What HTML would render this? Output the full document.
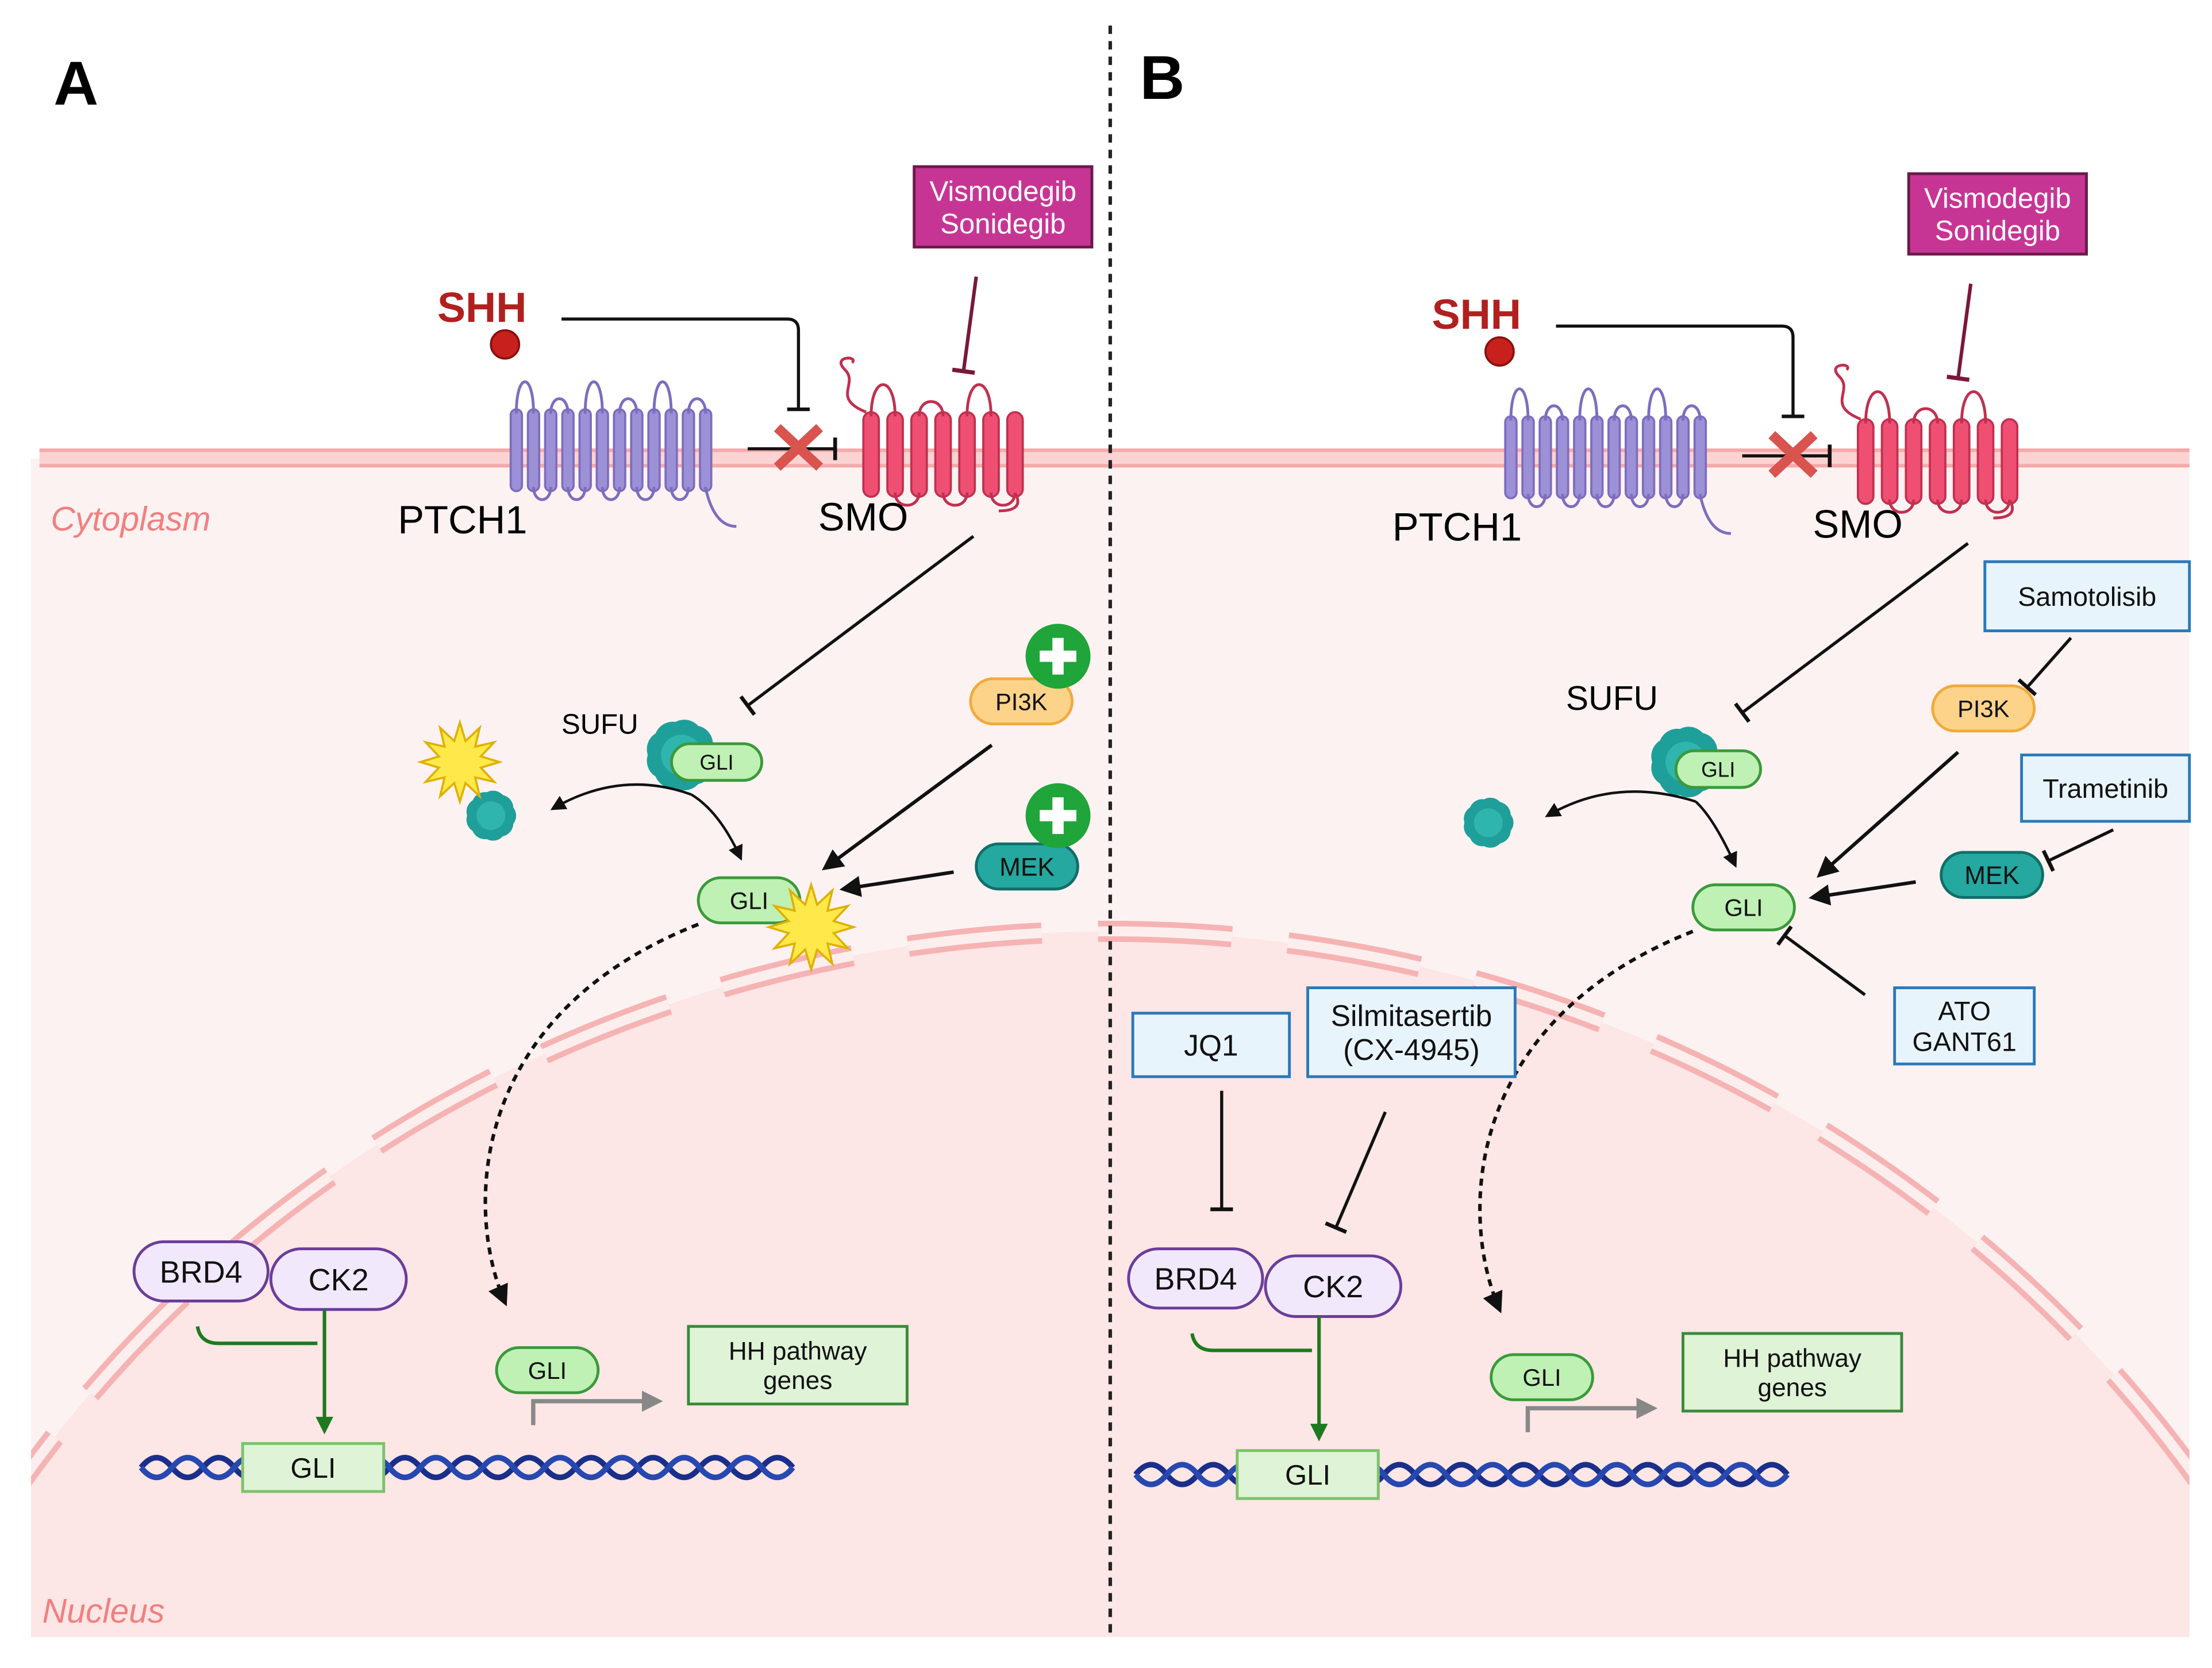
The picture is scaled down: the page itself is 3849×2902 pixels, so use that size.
<!DOCTYPE html>
<html><head><meta charset="utf-8">
<style>
html,body{margin:0;padding:0;background:#fff;width:3849px;height:2902px;overflow:hidden;}
svg{display:block;}
text{font-family:"Liberation Sans",sans-serif;}
</style></head>
<body>
<svg id="s" width="3849" height="2902" viewBox="0 0 1568 1182" xmlns="http://www.w3.org/2000/svg">
<defs>
<marker id="ah" viewBox="0 0 10 10" refX="8" refY="5" markerWidth="6" markerHeight="6" orient="auto"><path d="M0,0 L10,5 L0,10 z" fill="#111"/></marker>
<marker id="ahg" viewBox="0 0 10 10" refX="8" refY="5" markerWidth="5" markerHeight="5" orient="auto"><path d="M0,0 L10,5 L0,10 z" fill="#1e7a1e"/></marker>
<marker id="ahgr" viewBox="0 0 10 10" refX="8" refY="5" markerWidth="5" markerHeight="5" orient="auto"><path d="M0,0 L10,5 L0,10 z" fill="#888"/></marker>
<clipPath id="cl"><rect x="22" y="325" width="1530" height="835"/></clipPath>
</defs>
<rect width="1568" height="1182" fill="#fff"/>
<rect x="22" y="325" width="1530" height="835" fill="#fdf2f2"/>
<g clip-path="url(#cl)">
<ellipse cx="787" cy="1560" rx="937" ry="900" fill="#fce6e6"/>
<ellipse cx="787" cy="1560" rx="937" ry="900" fill="none" stroke="#f6b3b3" stroke-width="15" stroke-dasharray="95,40"/>
<ellipse cx="787" cy="1560" rx="937" ry="900" fill="none" stroke="#fdeeee" stroke-width="7" stroke-dasharray="95,40"/>
</g>
<rect x="28" y="318" width="1524" height="13" fill="#fbd3d3"/>
<line x1="28" y1="319" x2="1552" y2="319" stroke="#f6a9a9" stroke-width="2.5"/>
<line x1="28" y1="330" x2="1552" y2="330" stroke="#f6a9a9" stroke-width="2.5"/>
<line x1="787" y1="18" x2="787" y2="1162" stroke="#222" stroke-width="2.5" stroke-dasharray="6,5"/>
<text x="38" y="74" font-size="44" font-weight="bold">A</text>
<text x="808" y="70" font-size="44" font-weight="bold">B</text>
<text x="36" y="376" font-size="24" font-style="italic" fill="#f08080">Cytoplasm</text>
<text x="30" y="1150" font-size="24" font-style="italic" fill="#f08080">Nucleus</text>
<g id="A"></g>
<g id="B"></g>
</svg>
<script>
var NS="http://www.w3.org/2000/svg";
function el(p,t,a,txt){var e=document.createElementNS(NS,t);for(var k in a)e.setAttribute(k,a[k]);if(txt!==undefined)e.textContent=txt;p.appendChild(e);return e;}
function pill(g,x,y,w,h,fill,stroke,label,fs,tc){el(g,'rect',{x:x,y:y,width:w,height:h,rx:h/2,fill:fill,stroke:stroke,'stroke-width':2});el(g,'text',{x:x+w/2,y:y+h/2+fs*0.36,'font-size':fs,'text-anchor':'middle',fill:tc||'#111'},label);}
function box(g,x,y,w,h,fill,stroke,lines,fs,tc){el(g,'rect',{x:x,y:y,width:w,height:h,fill:fill,stroke:stroke,'stroke-width':2});var n=lines.length;for(var i=0;i<n;i++)el(g,'text',{x:x+w/2,y:y+h/2+fs*0.36+(i-(n-1)/2)*fs*1.15,'font-size':fs,'text-anchor':'middle',fill:tc||'#111'},lines[i]);}
function inhib(g,x1,y1,x2,y2,col,w){col=col||'#111';w=w||2.2;el(g,'line',{x1:x1,y1:y1,x2:x2,y2:y2,stroke:col,'stroke-width':w});var dx=x2-x1,dy=y2-y1,L=Math.hypot(dx,dy),px=-dy/L*8,py=dx/L*8;el(g,'line',{x1:x2+px,y1:y2+py,x2:x2-px,y2:y2-py,stroke:col,'stroke-width':w+0.5});}
function arrow(g,d,col,mk,w,dash){var a={d:d,fill:'none',stroke:col,'stroke-width':w||2.5,'marker-end':'url(#'+mk+')'};if(dash)a['stroke-dasharray']=dash;el(g,'path',a);}
function receptor(g,x,y,n,w,gap,h,fill,stroke){for(var i=0;i<n;i++){var cx=x+i*(w+gap);el(g,'rect',{x:cx,y:y,width:w,height:h,rx:w/2,fill:fill,stroke:stroke,'stroke-width':1.5});}
 for(var i=0;i<n-1;i++){var cx=x+i*(w+gap)+w/2,nx=cx+w+gap;var top=(i%2==0);var yy=top?y+3:y+h-3;var hh=top?(i%4==0?-30:-14):12;el(g,'path',{d:'M'+cx+','+yy+' C'+cx+','+(yy+hh)+' '+nx+','+(yy+hh)+' '+nx+','+yy,fill:'none',stroke:stroke,'stroke-width':2});}}
function dna(g,x1,x2,y,gx,gw){var p1='M'+x1+','+y,p2='M'+x1+','+y;var per=44,amp=7;var k=0;for(var x=x1;x<x2-1;x+=per/2,k++){var s=k%2==0?1:-1;p1+=' Q'+(x+per/4)+','+(y-amp*s*2)+' '+(x+per/2)+','+y;p2+=' Q'+(x+per/4)+','+(y+amp*s*2)+' '+(x+per/2)+','+y;}
 el(g,'path',{d:p1,fill:'none',stroke:'#1a2f8a','stroke-width':4});el(g,'path',{d:p2,fill:'none',stroke:'#2748b0','stroke-width':4});
 box(g,gx,y-17,gw,34,'#dff3d6','#7cc26a',['GLI'],20);}
function blob(g,cx,cy,r){for(var i=0;i<9;i++){var a=i/9*Math.PI*2;el(g,'circle',{cx:cx+Math.cos(a)*r*0.5,cy:cy+Math.sin(a)*r*0.5,r:r*0.55,fill:'#1f9f9a'});}el(g,'circle',{cx:cx,cy:cy,r:r*0.6,fill:'#2fb5ae'});}
function star(g,cx,cy,r){var d='';for(var i=0;i<24;i++){var a=i/24*Math.PI*2,rr=i%2?r*0.55:r;d+=(i?'L':'M')+(cx+Math.cos(a)*rr)+','+(cy+Math.sin(a)*rr);}el(g,'path',{d:d+'z',fill:'#ffe94a',stroke:'#e0b000','stroke-width':1.5});}
function plus(g,cx,cy){el(g,'circle',{cx:cx,cy:cy,r:23,fill:'#1fa53a'});el(g,'rect',{x:cx-13,y:cy-4,width:26,height:8,fill:'#fff'});el(g,'rect',{x:cx-4,y:cy-13,width:8,height:26,fill:'#fff'});}
function panel(g,ox,oy,B){
 function X(v){return v+ox;}function Y(v){return v+oy;}
 el(g,'text',{x:X(310),y:Y(228),'font-size':30,'font-weight':'bold',fill:'#b0201e'},'SHH');
 el(g,'circle',{cx:X(358),cy:Y(244),r:10,fill:'#c8201c',stroke:'#8a1010','stroke-width':1.5});
 receptor(g,X(362),Y(290),12,8,4.2,58,'#9c90d6','#7d6dbd');
 el(g,'path',{d:'M'+X(500)+','+Y(345)+' q6,28 22,28',fill:'none',stroke:'#7d6dbd','stroke-width':2});
 el(g,'text',{x:X(282),y:Y(378),'font-size':28},'PTCH1');
 receptor(g,X(612),Y(292),7,11,6,60,'#ef4f72','#c0304f');
 el(g,'path',{d:'M'+X(614)+','+Y(292)+' c-25,-10 -5,-20 -15,-30 s 10,-10 5,-5',fill:'none',stroke:'#c0304f','stroke-width':2});
 el(g,'path',{d:'M'+X(720)+','+Y(350)+' q6,12 -12,12',fill:'none',stroke:'#c0304f','stroke-width':2});
 el(g,'text',{x:X(580),y:Y(376),'font-size':28},'SMO');
 el(g,'path',{d:'M'+X(398)+','+Y(226)+' H'+X(558)+' q8,0 8,8 V'+Y(290),fill:'none',stroke:'#111','stroke-width':2.2});
 el(g,'line',{x1:X(558),y1:Y(290),x2:X(574),y2:Y(290),stroke:'#111','stroke-width':2.5});
 inhib(g,X(530),Y(318),X(592),Y(318));
 el(g,'path',{d:'M'+X(551)+','+Y(303)+' L'+X(581)+','+Y(331)+' M'+X(581)+','+Y(303)+' L'+X(551)+','+Y(331),stroke:'#d9534f','stroke-width':7});
 box(g,X(648),Y(118),126,57,'#c73594','#6b1a4a',['Vismodegib','Sonidegib'],20,'#fff');
 inhib(g,X(692),Y(196),X(683),Y(263),'#7a1838',2.5);
 inhib(g,X(690),Y(380),X(530),Y(500));
 el(g,'text',{x:X(B?405:398),y:Y(B?498:520),'font-size':B?24:20},'SUFU');
 var sx=B?490:483;
 blob(g,X(sx),Y(535),24);
 pill(g,X(sx-7),Y(527),B?60:64,26,'#bff0b4','#3a9a3a','GLI',15);
 blob(g,X(B?350:348),Y(578),17);
 if(!B)star(g,326,540,28);
 arrow(g,'M'+X(sx+7)+','+Y(563)+' Q'+X(440)+','+Y(545)+' '+X(392)+','+Y(573),'#111','ah',1.8);
 arrow(g,'M'+X(sx+7)+','+Y(563)+' Q'+X(510)+','+Y(575)+' '+X(525)+','+Y(608),'#111','ah',1.8);
 pill(g,X(B?665:688),Y(481),72,32,'#fdd38a','#f0ab3c','PI3K',17);
 pill(g,X(B?671:692),Y(B?599:598),72,32,'#24a8a0','#116e69','MEK',18,'#111');
 if(!B){plus(g,750,465);plus(g,750,578);}
 arrow(g,'M'+X(B?683:703)+','+Y(528)+' L'+X(585)+','+Y(615),'#111','ah',2.5);
 arrow(g,'M'+X(B?653:676)+','+Y(B?620:618)+' L'+X(B?580:598)+','+Y(B?631:630),'#111','ah',2.5);
 pill(g,X(495),Y(622),72,32,'#bff0b4','#3a9a3a','GLI',17);
 if(!B)star(g,575,657,30);
 arrow(g,'M'+X(495)+','+Y(655)+' C'+X(330)+','+Y(720)+' '+X(330)+','+Y(860)+' '+X(358)+','+Y(923),'#111','ah',2.5,'5,4');
 pill(g,X(95),Y(880),95,42,'#f1e8fb','#6a3d9a','BRD4',22);
 pill(g,X(192),Y(885),96,43,'#f1e8fb','#6a3d9a','CK2',22);
 el(g,'path',{d:'M'+X(140)+','+Y(940)+' q2,12 15,12 H'+X(225),fill:'none',stroke:'#1e7a1e','stroke-width':2.5});
 arrow(g,'M'+X(230)+','+Y(928)+' V'+Y(1014),'#1e7a1e','ahg',2.5);
 dna(g,X(100),X(542),Y(1040),X(172),100);
 pill(g,X(352),Y(955),72,32,'#bff0b4','#3a9a3a','GLI',17);
 arrow(g,'M'+X(378)+','+Y(1010)+' V'+Y(993)+' H'+X(467),'#888','ahgr',3);
 box(g,X(488),Y(940),155,55,'#dff3d6','#3a8a3a',['HH pathway','genes'],18);
}
panel(document.getElementById('A'),0,0,false);
var g=document.getElementById('B');
panel(g,705,5,true);
var lb='#e8f4fc',bb='#2a7ab9';
box(g,1407,398,145,49,lb,bb,['Samotolisib'],19);
inhib(g,1468,452,1437,487);
box(g,1433,535,119,47,lb,bb,['Trametinib'],19);
inhib(g,1498,588,1452,610);
box(g,1343,700,99,54,lb,bb,['ATO','GANT61'],19);
inhib(g,1322,705,1265,663);
box(g,803,718,111,45,lb,bb,['JQ1'],21);
inhib(g,866,773,866,857);
box(g,927,700,147,63,lb,bb,['Silmitasertib','(CX-4945)'],21);
inhib(g,982,788,947,870);
</script>
</body></html>
